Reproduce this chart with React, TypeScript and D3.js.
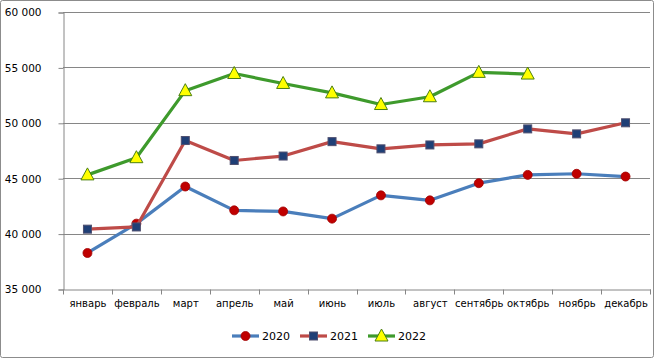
import React, { useEffect, useRef } from 'react';
import * as d3 from 'd3';

const months = [
  'январь', 'февраль', 'март', 'апрель', 'май', 'июнь',
  'июль', 'август', 'сентябрь', 'октябрь', 'ноябрь', 'декабрь',
];
const values2020 = [38250, 40900, 44250, 42100, 42000, 41350, 43450, 43000, 44550, 45300, 45400, 45150];
const values2021 = [40400, 40600, 48400, 46600, 47000, 48300, 47650, 48000, 48100, 49450, 49000, 50000];
const values2022 = [45300, 46850, 52900, 54450, 53550, 52700, 51650, 52350, 54550, 54400];
const yTicks = [35000, 40000, 45000, 50000, 55000, 60000];

const series = [
  { name: '2020', values: values2020, color: '#4a7ebb', marker: 'circle', fill: '#c00000', stroke: '#a00000' },
  { name: '2021', values: values2021, color: '#be4b48', marker: 'square', fill: '#1f3f76', stroke: '#4f4f6f' },
  { name: '2022', values: values2022, color: '#3e9a2c', marker: 'triangle', fill: '#ffff00', stroke: '#4a7f10' },
];

const W = 654;
const H = 358;

const App: React.FC = () => {
  const ref = useRef<SVGSVGElement>(null);

  useEffect(() => {
    const svg = d3.select(ref.current);
    svg.selectAll('*').remove();

    const left = 63;
    const right = 650;
    const top = 12;
    const bottom = 289;

    svg.append('rect')
      .attr('x', 0.5).attr('y', 0.5)
      .attr('width', W - 1).attr('height', H - 1)
      .attr('rx', 2)
      .attr('fill', '#fff')
      .attr('stroke', '#8c8c8c');

    const x = d3.scaleBand().domain(months).range([left, right]);
    const y = d3.scaleLinear().domain([35000, 60000]).range([bottom, top]);

    // gridlines
    svg.append('g').selectAll('line')
      .data(yTicks.slice(1))
      .join('line')
      .attr('x1', left).attr('x2', right)
      .attr('y1', (d) => Math.round(y(d)) + 0.5)
      .attr('y2', (d) => Math.round(y(d)) + 0.5)
      .attr('stroke', '#868686');

    // y axis
    const yAxis = svg.append('g')
      .attr('transform', `translate(${left + 0.5},0.5)`)
      .call(d3.axisLeft(y).tickValues(yTicks).tickSize(5).tickPadding(17)
        .tickFormat((d) => d3.format(',')(d as number).replace(/,/g, ' ')));
    yAxis.select('.domain').attr('stroke', '#868686');
    yAxis.selectAll('.tick line').attr('stroke', '#868686');
    yAxis.selectAll('text')
      .attr('font-family', 'DejaVu Sans, sans-serif')
      .attr('font-size', 10.5)
      .attr('fill', '#000');

    // x axis
    const xAxis = svg.append('g')
      .attr('transform', `translate(0.5,${bottom + 0.5})`)
      .call(d3.axisBottom(x).tickSize(0).tickPadding(10));
    xAxis.select('.domain').attr('stroke', '#868686');
    xAxis.selectAll('text')
      .attr('font-family', 'DejaVu Sans, sans-serif')
      .attr('font-size', 10)
      .attr('fill', '#000');
    xAxis.selectAll('.sep')
      .data(months.concat(['end']))
      .join('line')
      .attr('class', 'sep')
      .attr('x1', (d, i) => Math.round(left + i * x.bandwidth()))
      .attr('x2', (d, i) => Math.round(left + i * x.bandwidth()))
      .attr('y1', 0).attr('y2', 5)
      .attr('stroke', '#868686');

    const cx = (i: number) => (x(months[i]) as number) + x.bandwidth() / 2;

    const drawMarker = (g: any, kind: string, px: number, py: number, fill: string, stroke: string) => {
      if (kind === 'circle') {
        g.append('circle').attr('cx', px).attr('cy', py).attr('r', 4.5)
          .attr('fill', fill).attr('stroke', stroke).attr('stroke-width', 0.8);
      } else if (kind === 'square') {
        g.append('rect').attr('x', px - 4).attr('y', py - 4).attr('width', 8).attr('height', 8)
          .attr('fill', fill).attr('stroke', stroke).attr('stroke-width', 1);
      } else {
        g.append('path')
          .attr('d', `M${px},${py - 7}L${px + 6.5},${py + 5}L${px - 6.5},${py + 5}Z`)
          .attr('fill', fill).attr('stroke', stroke).attr('stroke-width', 1);
      }
    };

    const line = d3.line<number>().x((d, i) => cx(i)).y((d) => y(d));

    series.forEach((s) => {
      const g = svg.append('g');
      g.append('path')
        .attr('d', line(s.values))
        .attr('fill', 'none')
        .attr('stroke', s.color)
        .attr('stroke-width', 3.2)
        .attr('stroke-linejoin', 'round')
        .attr('stroke-linecap', 'round');
      s.values.forEach((v, i) => drawMarker(g, s.marker, cx(i), y(v), s.fill, s.stroke));
    });

    // legend
    const legendX = [232, 300, 368];
    const ly = 336;
    series.forEach((s, i) => {
      const g = svg.append('g');
      const lx = legendX[i];
      g.append('line')
        .attr('x1', lx).attr('x2', lx + 27)
        .attr('y1', ly).attr('y2', ly)
        .attr('stroke', s.color).attr('stroke-width', 3.2);
      drawMarker(g, s.marker, lx + 13.5, ly, s.fill, s.stroke);
      g.append('text')
        .attr('x', lx + 30).attr('y', ly)
        .attr('dy', '0.36em')
        .attr('font-family', 'DejaVu Sans, sans-serif')
        .attr('font-size', 11)
        .attr('fill', '#000')
        .text(s.name);
    });
  }, []);

  return (
    <>
      <style>{'body{margin:0}'}</style>
      <svg ref={ref} width={W} height={H} style={{ display: 'block' }} />
    </>
  );
};

export default App;
